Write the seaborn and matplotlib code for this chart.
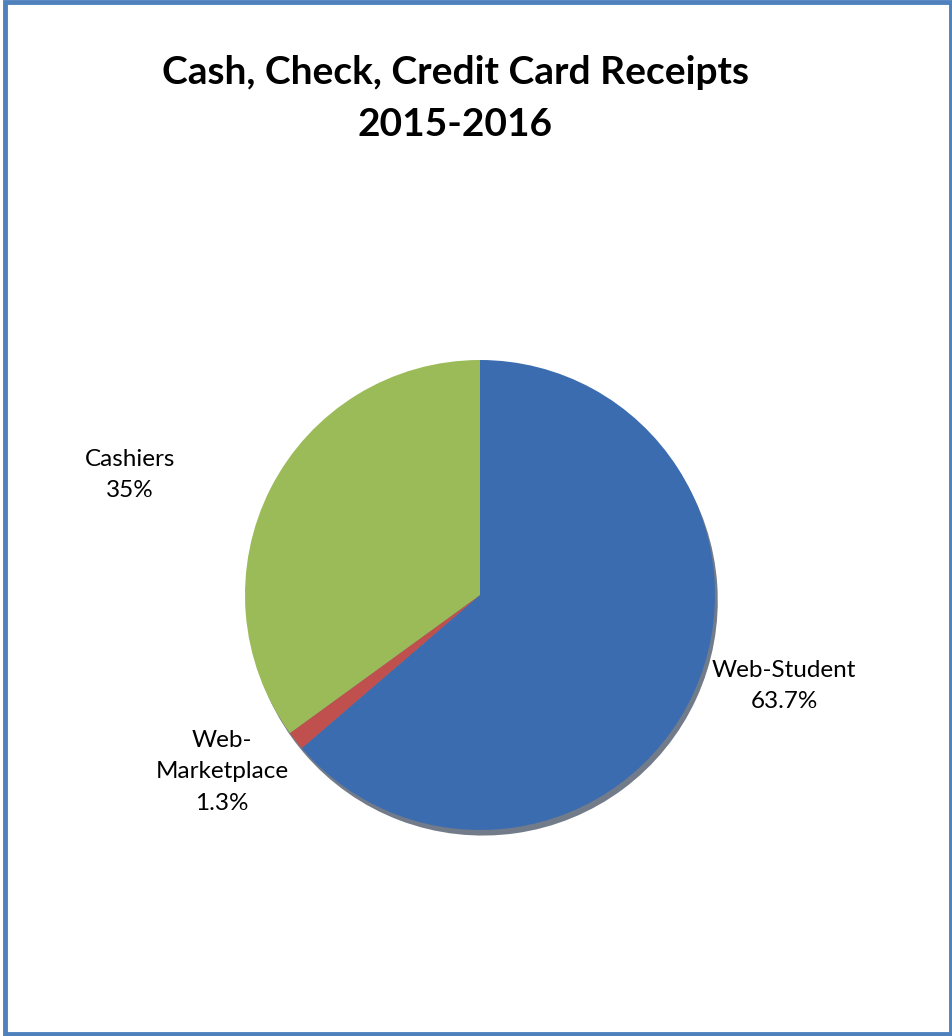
import seaborn as sns
import matplotlib.pyplot as plt
import matplotlib.patheffects as pe
from matplotlib.patches import Rectangle

# Data
categories = ['Web-Student', 'Web-\nMarketplace', 'Cashiers']
shares = [63.7, 1.3, 35.0]
share_labels = ['63.7%', '1.3%', '35%']
colors = ['#3b6cb0', '#c0504d', '#9bbb59']

sns.set_theme(style="white")
plt.rcParams['font.family'] = ['Lato', 'DejaVu Sans']

W, H = 952, 1036
fig = plt.figure(figsize=(W / 100, H / 100), dpi=100)
ax = fig.add_axes([0, 0, 1, 1])

# pie centre (480, 595) px from top-left, radius 235 px
cx, cy, r = 480, 595, 235

# shadow pass first, then the real pie on top
shadow, _ = ax.pie(shares, colors=colors, startangle=90, counterclock=False,
                   wedgeprops=dict(linewidth=0))
for w in shadow:
    w.set_path_effects([pe.SimplePatchShadow(offset=(2, -4), shadow_rgbFace='#15243a', alpha=0.6)])
wedges, _ = ax.pie(shares, colors=colors, startangle=90, counterclock=False,
                   wedgeprops=dict(linewidth=0))

ax.set_xlim(-cx / r, (W - cx) / r)
ax.set_ylim(-(H - cy) / r, cy / r)
ax.set_aspect('auto')
ax.axis('off')

# label positions in pixels (from the reference layout)
label_pos = [(784, 686), (222, 772), (130, 475)]
for name, lab, (px, py) in zip(categories, share_labels, label_pos):
    ax.text((px - cx) / r, (cy - py) / r, f'{name}\n{lab}', ha='center', va='center',
            fontsize=17.5, color='black', linespacing=1.6)

fig.text(455 / W, 1 - 72 / H, 'Cash, Check, Credit Card Receipts', ha='center', va='center',
         fontsize=28, fontweight='bold', color='black')
fig.text(455 / W, 1 - 124 / H, '2015-2016', ha='center', va='center',
         fontsize=28, fontweight='bold', color='black')

# frame around the chart
fig.patches.append(Rectangle((4.5 / W, 2 / H), (950.5 - 4.5) / W, (1034 - 2) / H,
                             transform=fig.transFigure, fill=False,
                             edgecolor='#4f81bd', linewidth=3.5))

fig.savefig('out.png', dpi=100)
